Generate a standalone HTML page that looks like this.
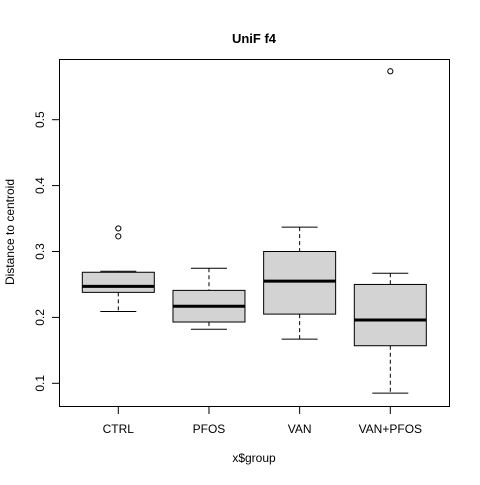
<!DOCTYPE html>
<html><head><meta charset="utf-8"><style>
html,body{margin:0;padding:0;background:#fff;}
svg text{font-family:"Liberation Sans",Arial,sans-serif;}
</style></head><body>
<svg id="chart" width="480" height="480" xmlns="http://www.w3.org/2000/svg">
<rect width="480" height="480" fill="#fff"/>
<text x="254" y="43" text-anchor="middle" font-size="13" font-weight="bold">UniF f4</text>
<text x="254" y="462" text-anchor="middle" font-size="12">x$group</text>
<text transform="translate(14,232) rotate(-90)" text-anchor="middle" font-size="12">Distance to centroid</text>
<rect x="59.5" y="59.5" width="390" height="347" fill="none" stroke="#000"/>
<g id="marks"></g>
</svg>
<script>
const categories=["CTRL","PFOS","VAN","VAN+PFOS"];
const whiskerLow=[0.209,0.182,0.167,0.085];
const q1=[0.238,0.193,0.205,0.157];
const medians=[0.247,0.217,0.255,0.196];
const q3=[0.2685,0.241,0.300,0.250];
const whiskerHigh=[0.270,0.2745,0.337,0.267];
const outliers=[[0.335,0.323],[],[],[0.5735]];
const yTicks=[0.1,0.2,0.3,0.4,0.5];
const yTickLabels=["0.1","0.2","0.3","0.4","0.5"];

const NS="http://www.w3.org/2000/svg";
const g=document.getElementById('marks');
function y(v){return 383.3-(v-0.1)*659;}
function x(i){return 118.3+i*90.67;}
function mk(t,a){const e=document.createElementNS(NS,t);for(const k in a)e.setAttribute(k,a[k]);g.appendChild(e);return e;}
yTicks.forEach((v,i)=>{
  const t=mk('line',{x1:52,x2:59.5,y1:y(v),y2:y(v),stroke:'#000'});
  
  
  const l=mk('text',{transform:`translate(44,${y(v)}) rotate(-90)`,'text-anchor':'middle','font-size':'12'});
  l.textContent=yTickLabels[i];
  
  
});
categories.forEach((c,i)=>{
  const cx=x(i);
  const t=mk('line',{x1:cx,x2:cx,y1:406.5,y2:414,stroke:'#000'});
  
  
  const l=mk('text',{x:cx,y:433,'text-anchor':'middle','font-size':'12'});
  l.textContent=c;
  
  
  const w1=mk('line',{x1:cx,x2:cx,y1:y(whiskerHigh[i]),y2:y(q3[i]),stroke:'#000','stroke-dasharray':'4,3'});
  
  
  const w2=mk('line',{x1:cx,x2:cx,y1:y(q1[i]),y2:y(whiskerLow[i]),stroke:'#000','stroke-dasharray':'4,3'});
  
  
  const c1=mk('line',{x1:cx-18,x2:cx+18,y1:y(whiskerHigh[i]),y2:y(whiskerHigh[i]),stroke:'#000'});
  
  
  const c2=mk('line',{x1:cx-18,x2:cx+18,y1:y(whiskerLow[i]),y2:y(whiskerLow[i]),stroke:'#000'});
  
  
  const b=mk('rect',{x:cx-36,y:y(q3[i]),width:72,height:y(q1[i])-y(q3[i]),fill:'#d3d3d3',stroke:'#000'});
  
  
  const m=mk('line',{x1:cx-36,x2:cx+36,y1:y(medians[i]),y2:y(medians[i]),stroke:'#000','stroke-width':3});
  
  
  outliers[i].forEach(v=>{
    const o=mk('circle',{cx:cx,cy:y(v),r:2.6,fill:'none',stroke:'#000'});
    
    
  });
});
</script>
</body></html>
